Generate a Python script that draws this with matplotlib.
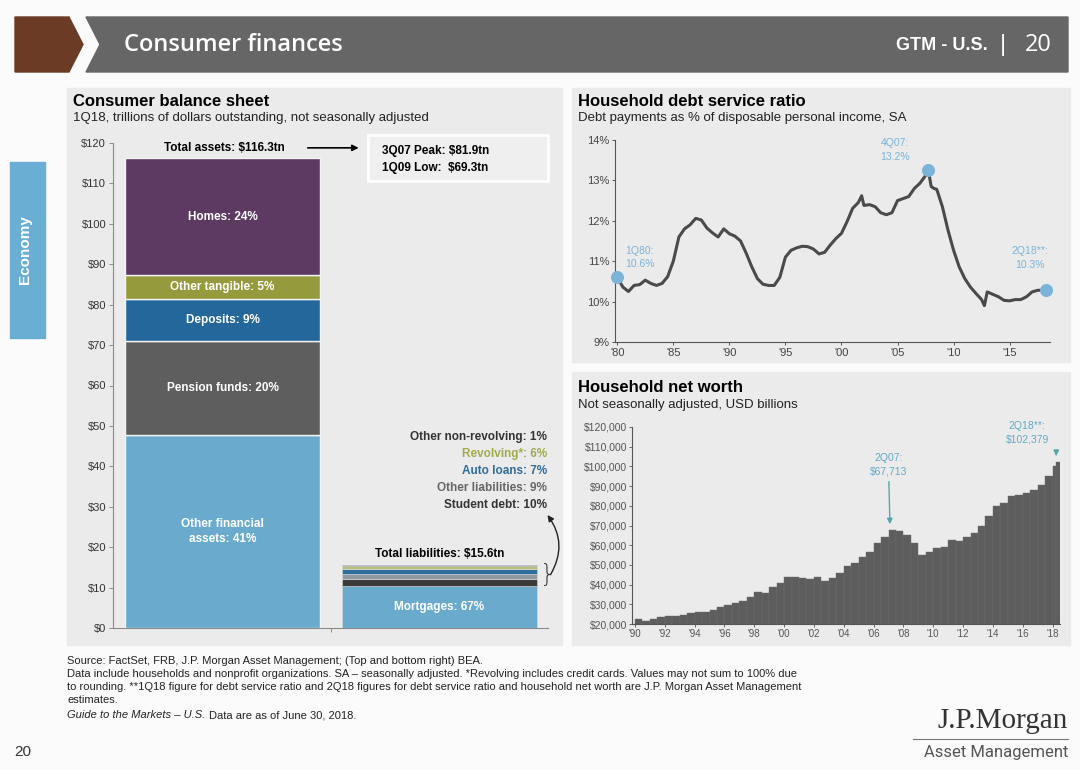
import numpy as np
import matplotlib.pyplot as plt
from matplotlib.patches import Rectangle, Polygon

plt.rcParams['font.family'] = ['Liberation Sans', 'DejaVu Sans']

W, H = 1080, 770

# consumer balance sheet, 1Q18, $tn
asset_names = ['Other financial\nassets: 41%', 'Pension funds: 20%', 'Deposits: 9%',
               'Other tangible: 5%', 'Homes: 24%']
asset_vals = [47.7, 23.3, 10.5, 5.8, 29.0]
asset_cols = ['#6aabcd', '#5e5e5e', '#24689b', '#959b3c', '#5c3a62']

liab_names = ['Mortgages: 67%', 'Student debt: 10%', 'Other liabilities: 9%',
              'Auto loans: 7%', 'Revolving*: 6%', 'Other non-revolving: 1%']
liab_vals = [10.45, 1.56, 1.40, 1.09, 0.94, 0.16]
liab_cols = ['#6aabcd', '#3a3a3a', '#8e999f', '#2f6d9b', '#b9c07a', '#555555']
liab_txt_cols = ['white', '#333333', '#666666', '#2f6d9b', '#a3aa4c', '#333333']

asset_ticks = [0, 10, 20, 30, 40, 50, 60, 70, 80, 90, 100, 110, 120]

# household debt service ratio, % of disposable income
ds_years = [1980.0, 1980.5, 1981.0, 1981.5, 1982.0, 1982.5, 1983.0, 1983.5, 1984.0, 1984.5,
            1985.0, 1985.5, 1986.0, 1986.5, 1987.0, 1987.5, 1988.0, 1988.5, 1989.0, 1989.5,
            1990.0, 1990.5, 1991.0, 1991.5, 1992.0, 1992.5, 1993.0, 1993.5, 1994.0, 1994.5,
            1995.0, 1995.5, 1996.0, 1996.5, 1997.0, 1997.5, 1998.0, 1998.5, 1999.0, 1999.5,
            2000.0, 2000.5, 2001.0, 2001.5, 2001.8, 2002.0, 2002.5, 2003.0, 2003.5, 2004.0,
            2004.5, 2005.0, 2005.5, 2006.0, 2006.5, 2007.0, 2007.5, 2007.75, 2008.0, 2008.25,
            2008.5, 2009.0, 2009.5, 2010.0, 2010.5, 2011.0, 2011.5, 2012.0, 2012.5, 2012.75,
            2013.0, 2013.5, 2014.0, 2014.5, 2015.0, 2015.5, 2016.0, 2016.5, 2017.0, 2017.5,
            2018.25]
ds_vals = [10.6, 10.36, 10.25, 10.4, 10.42, 10.53, 10.45, 10.4, 10.45, 10.62,
           11.0, 11.6, 11.8, 11.9, 12.06, 12.02, 11.82, 11.7, 11.6, 11.8,
           11.68, 11.62, 11.5, 11.2, 10.86, 10.57, 10.43, 10.4, 10.4, 10.6,
           11.1, 11.27, 11.33, 11.37, 11.36, 11.3, 11.18, 11.22, 11.4, 11.56,
           11.69, 11.98, 12.31, 12.45, 12.62, 12.38, 12.4, 12.35, 12.2, 12.15,
           12.2, 12.5, 12.55, 12.6, 12.8, 12.93, 13.12, 13.25, 12.85, 12.8,
           12.78, 12.35, 11.77, 11.27, 10.86, 10.57, 10.36, 10.2, 10.05, 9.9,
           10.24, 10.18, 10.12, 10.03, 10.02, 10.05, 10.05, 10.12, 10.24, 10.28,
           10.28]
ds_ticks = [1980, 1985, 1990, 1995, 2000, 2005, 2010, 2015]
ds_tick_labels = ["'80", "'85", "'90", "'95", "'00", "'05", "'10", "'15"]

# household net worth, USD billions
nw_years = [1990.0, 1990.5, 1991.0, 1991.5, 1992.0, 1992.5, 1993.0, 1993.5, 1994.0, 1994.5,
            1995.0, 1995.5, 1996.0, 1996.5, 1997.0, 1997.5, 1998.0, 1998.5, 1999.0, 1999.5,
            2000.0, 2000.5, 2001.0, 2001.5, 2002.0, 2002.5, 2003.0, 2003.5, 2004.0, 2004.5,
            2005.0, 2005.5, 2006.0, 2006.5, 2007.0, 2007.5, 2008.0, 2008.5, 2009.0, 2009.5,
            2010.0, 2010.5, 2011.0, 2011.5, 2012.0, 2012.5, 2013.0, 2013.5, 2014.0, 2014.5,
            2015.0, 2015.5, 2016.0, 2016.5, 2017.0, 2017.5, 2018.0, 2018.25]
nw_vals = [22400, 21700, 22400, 23400, 24100, 24200, 24600, 25400, 25900, 26100,
           27100, 28500, 29700, 30500, 31900, 33900, 36400, 35600, 39000, 40700,
           44100, 43700, 43200, 42700, 43700, 42000, 43200, 45800, 49200, 50800,
           54200, 56800, 61000, 64400, 67713, 67300, 65300, 61000, 55100, 56800,
           58500, 59300, 62700, 61900, 64400, 66100, 69500, 74600, 79700, 81400,
           85100, 85600, 86400, 87800, 90700, 94900, 100000, 102379]
nw_ticks = list(range(1990, 2019, 2))
nw_tick_labels = ["'%02d" % (y % 100) for y in nw_ticks]
nw_yticks = list(range(20000, 120001, 10000))


def fx(px):
    return px / W


def fy(py):
    return 1 - py / H


def box(x0, y0, x1, y1):
    return [fx(x0), fy(y1), fx(x1) - fx(x0), fy(y0) - fy(y1)]


fig = plt.figure(figsize=(10.8, 7.7), dpi=100)
fig.patch.set_facecolor('#fbfbfb')

# header band
fig.patches.append(Polygon([[fx(15), fy(17)], [fx(69), fy(17)], [fx(83), fy(44.5)],
                            [fx(69), fy(72)], [fx(15), fy(72)]],
                           closed=True, transform=fig.transFigure, color='#6b3b25', zorder=-5))
fig.patches.append(Polygon([[fx(86), fy(17)], [fx(1068), fy(17)], [fx(1068), fy(72)],
                            [fx(86), fy(72)], [fx(100), fy(44.5)]],
                           closed=True, transform=fig.transFigure, color='#666666', zorder=-5))
fig.text(fx(124), fy(45), 'Consumer finances', color='white', fontsize=17, fontweight='semibold',
         family=['Open Sans', 'DejaVu Sans'], va='center')
fig.text(fx(988), fy(46), 'GTM - U.S.', color='white', fontsize=13, fontweight='bold',
         va='center', ha='right')
fig.text(fx(1000), fy(45), '|', color='white', fontsize=17, va='center')
fig.text(fx(1052), fy(45), '20', color='white', fontsize=17, ha='right', va='center',
         family=['Open Sans', 'DejaVu Sans'])

# side tab
fig.patches.append(Rectangle((fx(10), fy(338)), fx(45) - fx(10), fy(162) - fy(338),
                             transform=fig.transFigure, color='#6aaed3', zorder=-5))
fig.text(fx(25), fy(250), 'Economy', color='white', fontsize=11, fontweight='bold',
         rotation=90, ha='center', va='center')

# panel backgrounds
for x0, y0, x1, y1 in [(67, 88, 562, 645), (572, 88, 1070, 362), (572, 372, 1070, 645)]:
    fig.patches.append(Rectangle((fx(x0), fy(y1)), fx(x1) - fx(x0), fy(y0) - fy(y1),
                                 transform=fig.transFigure, color='#ebebeb', zorder=-5))

# panel titles
fig.text(fx(73), fy(101), 'Consumer balance sheet', fontsize=12, fontweight='bold', va='center')
fig.text(fx(73), fy(118), '1Q18, trillions of dollars outstanding, not seasonally adjusted',
         fontsize=9.5, va='center', color='#222222')
fig.text(fx(578), fy(101), 'Household debt service ratio', fontsize=12, fontweight='bold', va='center')
fig.text(fx(578), fy(118), 'Debt payments as % of disposable personal income, SA',
         fontsize=9.5, va='center', color='#222222')
fig.text(fx(578), fy(387), 'Household net worth', fontsize=12, fontweight='bold', va='center')
fig.text(fx(578), fy(405), 'Not seasonally adjusted, USD billions', fontsize=9.5, va='center',
         color='#222222')

# ---- consumer balance sheet ----
ax1 = fig.add_axes(box(113, 143, 548, 628))
ax1.set_facecolor('none')
ax1.set_xlim(-0.505, 1.5)
ax1.set_ylim(0, 120)

bottom = 0
for name, v, c in zip(asset_names, asset_vals, asset_cols):
    ax1.bar(0, v, bottom=bottom, width=0.9, color=c, edgecolor='#f4f4f4', linewidth=1)
    ax1.text(0, bottom + v / 2, name, ha='center', va='center', color='white',
             fontsize=8.5, fontweight='bold', linespacing=1.3)
    bottom += v

bottom = 0
for name, v, c in zip(liab_names, liab_vals, liab_cols):
    ax1.bar(1, v, bottom=bottom, width=0.9, color=c, edgecolor='#dcdcdc', linewidth=0.4)
    bottom += v
total_liab = bottom
ax1.text(1, liab_vals[0] / 2, liab_names[0], ha='center', va='center', color='white',
         fontsize=8.5, fontweight='bold')
for i, (name, col) in enumerate(zip(liab_names[1:], liab_txt_cols[1:])):
    ax1.text(1.495, 30.4 + 4.2 * i, name, ha='right', va='center', color=col,
             fontsize=8.5, fontweight='bold')

ax1.text(1, total_liab + 2.6, 'Total liabilities: $15.6tn', ha='center', va='center',
         fontsize=8.5, fontweight='bold')
ax1.text(0.01, 118.8, 'Total assets: $116.3tn', ha='center', va='center',
         fontsize=8.5, fontweight='bold', clip_on=False)
ax1.annotate('', xy=(0.64, 118.8), xytext=(0.38, 118.8),
             arrowprops=dict(arrowstyle='-|>', color='black', lw=1.2, mutation_scale=9),
             annotation_clip=False)
ax1.add_patch(Rectangle((0.67, 110.5), 0.83, 11.5, facecolor='#efefef', edgecolor='white',
                        lw=2, clip_on=False))
ax1.text(0.735, 118.1, '3Q07 Peak: $81.9tn', ha='left', va='center', fontsize=8.5,
         fontweight='bold', clip_on=False)
ax1.text(0.735, 113.9, '1Q09 Low:  $69.3tn', ha='left', va='center', fontsize=8.5,
         fontweight='bold', clip_on=False)

# bracket + curved arrow to the small liabilities
ax1.text(1.462, (liab_vals[0] + total_liab) / 2, '}', ha='left', va='center', fontsize=17,
         color='#333333', family='DejaVu Sans', fontweight='light', clip_on=False)
ax1.annotate('', xy=(1.49, 28.5), xytext=(1.505, 12.6),
             arrowprops=dict(arrowstyle='-|>', color='#222222', lw=1,
                             connectionstyle='arc3,rad=0.35', mutation_scale=9),
             annotation_clip=False)

ax1.set_yticks(asset_ticks)
ax1.set_yticklabels(['$%d' % t for t in asset_ticks], fontsize=8, color='#333333')
ax1.set_xticks([0.5])
ax1.set_xticklabels([''])
for s in ['top', 'right']:
    ax1.spines[s].set_visible(False)
for s in ['left', 'bottom']:
    ax1.spines[s].set_color('#8a8a8a')
    ax1.spines[s].set_linewidth(0.8)
ax1.tick_params(length=3, width=0.7, color='#8a8a8a', pad=2)

# ---- household debt service ratio ----
ax2 = fig.add_axes(box(615, 140, 1050, 342))
ax2.set_facecolor('none')
ax2.set_xlim(1979.8, 2018.6)
ax2.set_ylim(9, 14)
ax2.plot(ds_years, ds_vals, color='#4a4a4a', lw=2.2, zorder=2)
hl = [0, int(np.argmax(ds_vals)), len(ds_vals) - 1]
ax2.scatter([ds_years[i] for i in hl], [ds_vals[i] for i in hl], s=70, color='#7ab4d8',
            zorder=3, clip_on=False)
blue = '#7ab4d8'
ax2.text(1982.0, 11.1, '1Q80:\n10.6%', ha='center', va='center', color=blue, fontsize=7.5,
         linespacing=1.4)
ax2.text(2004.8, 13.75, '4Q07:\n13.2%', ha='center', va='center', color=blue, fontsize=7.5,
         linespacing=1.4)
ax2.text(2016.8, 11.08, '2Q18**:\n10.3%', ha='center', va='center', color=blue, fontsize=7.5,
         linespacing=1.4)
ax2.set_yticks([9, 10, 11, 12, 13, 14])
ax2.set_yticklabels(['%d%%' % t for t in [9, 10, 11, 12, 13, 14]], fontsize=8, color='#444444')
ax2.set_xticks(ds_ticks)
ax2.set_xticklabels(ds_tick_labels, fontsize=8, color='#444444')
for s in ['top', 'right']:
    ax2.spines[s].set_visible(False)
for s in ['left', 'bottom']:
    ax2.spines[s].set_color('#555555')
    ax2.spines[s].set_linewidth(0.8)
ax2.tick_params(length=2.5, width=0.7, color='#555555', pad=1.5)

# ---- household net worth ----
ax3 = fig.add_axes(box(632, 427, 1060, 624))
ax3.set_facecolor('none')
ax3.set_xlim(1989.8, 2018.5)
ax3.set_ylim(20000, 120000)
widths = np.diff(nw_years, append=nw_years[-1] + 0.25)
ax3.bar(nw_years, nw_vals, width=widths, align='edge', color='#5d5d5d',
        edgecolor='#6c6c6c', linewidth=0.3)
teal = '#62aac6'
i_pk = nw_vals.index(67713)
ax3.annotate('2Q07:\n$67,713', xy=(nw_years[i_pk] + 0.1, nw_vals[i_pk] + 1500),
             xytext=(nw_years[i_pk], 101000), ha='center', va='center', color=teal,
             fontsize=7.5, linespacing=1.4,
             arrowprops=dict(arrowstyle='-|>', color='#5aa5a8', lw=1, mutation_scale=8))
ax3.text(2016.3, 117000, '2Q18**:\n$102,379', ha='center', va='center', color=teal,
         fontsize=7.5, linespacing=1.4, clip_on=False)
ax3.annotate('', xy=(nw_years[-1], nw_vals[-1] + 1500), xytext=(nw_years[-1], 108000),
             arrowprops=dict(arrowstyle='-|>', color='#5aa5a8', lw=1, mutation_scale=8))
ax3.set_yticks(nw_yticks)
ax3.set_yticklabels(['${:,}'.format(t) for t in nw_yticks], fontsize=7.5, color='#555555')
ax3.set_xticks(nw_ticks)
ax3.set_xticklabels(nw_tick_labels, fontsize=7, color='#555555')
for s in ['top', 'right']:
    ax3.spines[s].set_visible(False)
for s in ['left', 'bottom']:
    ax3.spines[s].set_color('#555555')
    ax3.spines[s].set_linewidth(0.8)
ax3.tick_params(length=2, width=0.6, color='#555555', pad=1.5)

# footer
foot = ['Source: FactSet, FRB, J.P. Morgan Asset Management; (Top and bottom right) BEA.',
        'Data include households and nonprofit organizations. SA \u2013 seasonally adjusted. '
        '*Revolving includes credit cards. Values may not sum to 100% due',
        'to rounding. **1Q18 figure for debt service ratio and 2Q18 figures for debt service ratio '
        'and household net worth are J.P. Morgan Asset Management',
        'estimates.']
for i, line in enumerate(foot):
    fig.text(fx(67), fy(661 + 13 * i), line, fontsize=8, va='center', color='#222222')
t = fig.text(fx(67), fy(715), 'Guide to the Markets \u2013 U.S.', fontsize=8, va='center',
             style='italic', color='#222222')
fig.canvas.draw()
bb = t.get_window_extent()
fig.text(bb.x1 / W + fx(4), fy(715), 'Data are as of June 30, 2018.', fontsize=8,
         va='center', color='#222222')

fig.text(fx(14), fy(752), '20', fontsize=11, va='center', color='#333333')
fig.text(fx(1068), fy(721), 'J.P.Morgan', fontsize=21, ha='right', va='center',
         family=['Liberation Serif', 'DejaVu Serif'], color='#333333')
fig.add_artist(plt.Line2D([fx(913), fx(1068)], [fy(739), fy(739)], color='#777777', lw=0.8))
fig.text(fx(1068), fy(752), 'Asset Management', fontsize=12, ha='right', va='center',
         family=['Roboto', 'DejaVu Sans'], color='#555555')

fig.savefig('out.png', dpi=100, facecolor=fig.get_facecolor())
